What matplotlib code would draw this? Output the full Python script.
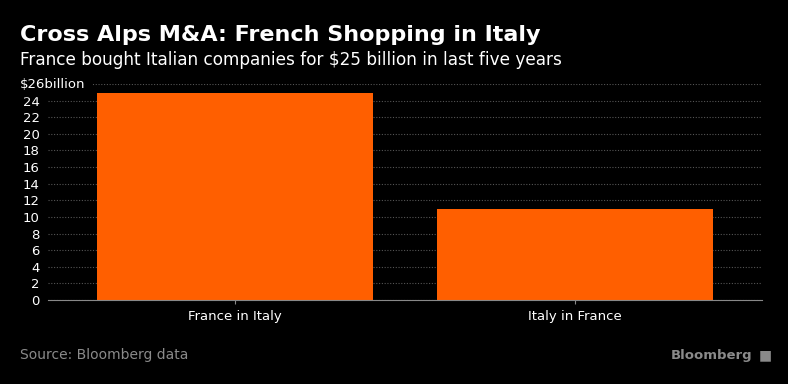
import matplotlib.pyplot as plt
import matplotlib.transforms as mtransforms
import numpy as np

# Cross Alps M&A: французькі покупки в Італії
categories = ['France in Italy', 'Italy in France']
values = [24.9, 11.0]
yticks = np.arange(0, 28, 2)
ytick_labels = [str(t) for t in yticks[:-1]] + ['']
top_label = '$26billion'

fig = plt.figure(figsize=(7.88, 3.84), dpi=100, facecolor='black')
ax = fig.add_axes([48 / 788, 1 - 300 / 384, 714 / 788, 216 / 384], facecolor='black')

ax.bar(range(len(categories)), values, width=0.81, color='#ff5f00', zorder=3)
ax.set_xlim(-0.55, 1.55)
ax.set_ylim(0, 26)
ax.set_yticks(yticks)
ax.set_yticklabels(ytick_labels)
ax.set_xticks(range(len(categories)))
ax.set_xticklabels(categories)

ax.grid(axis='y', color='#555555', linestyle=(0, (1, 1.5)), linewidth=0.8, zorder=0)
for s in ['top', 'right', 'left']:
    ax.spines[s].set_visible(False)
ax.spines['bottom'].set_color('#888888')
ax.spines['bottom'].set_zorder(4)
ax.tick_params(axis='y', length=0, pad=6, labelcolor='white', labelsize=9.5)
ax.tick_params(axis='x', length=3, color='#888888', pad=4, labelcolor='white', labelsize=9.5)

# верхній підпис осі з одиницями
trans = mtransforms.blended_transform_factory(fig.transFigure, ax.transData)
ax.text(20 / 788, yticks[-1], top_label, transform=trans, color='white', fontsize=9.5,
        ha='left', va='center', clip_on=False, backgroundcolor='black', zorder=5)

fig.text(20 / 788, 1 - 35 / 384, 'Cross Alps M&A: French Shopping in Italy', color='white',
         fontsize=16, fontweight='bold', va='center', ha='left')
fig.text(20 / 788, 1 - 60 / 384, 'France bought Italian companies for $25 billion in last five years',
         color='white', fontsize=12.2, va='center', ha='left')
fig.text(20 / 788, 1 - 355 / 384, 'Source: Bloomberg data', color='#8a8a8a',
         fontsize=10, va='center', ha='left')
fig.text(752 / 788, 1 - 355 / 384, 'Bloomberg', color='#8a8a8a', fontsize=9.5,
         fontweight='bold', va='center', ha='right')
fig.text(765 / 788, 1 - 355 / 384, '\u25a0', color='#8a8a8a', fontsize=10,
         va='center', ha='center')

fig.savefig('out.png', dpi=100, facecolor='black')
